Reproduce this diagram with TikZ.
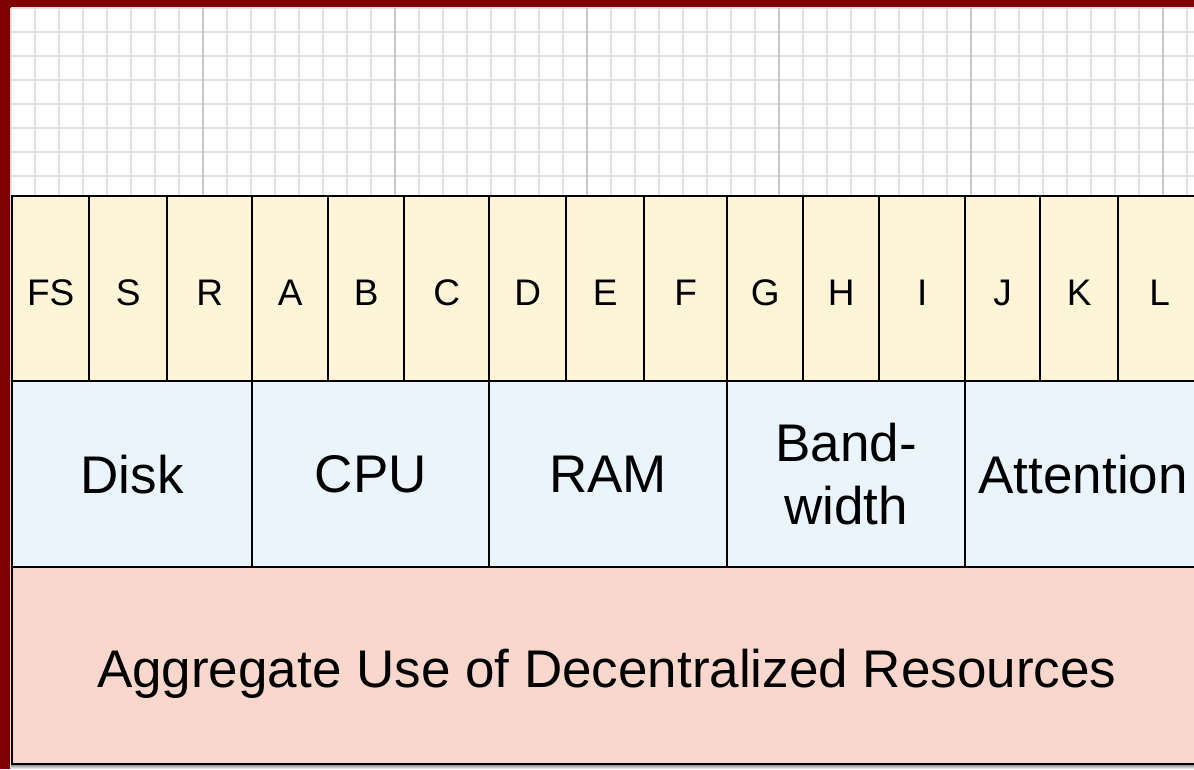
\documentclass[tikz,border=0pt]{standalone}
\usepackage{fontspec}
\setmainfont{Liberation Sans}
\usetikzlibrary{positioning}
\definecolor{frame}{HTML}{7F0000}
\definecolor{gridminor}{HTML}{E0E0E0}
\definecolor{gridmajor}{HTML}{C8C8C8}
\definecolor{letterfill}{HTML}{FEF4D8}
\definecolor{resfill}{HTML}{E9F4FC}
\definecolor{totalfill}{HTML}{FAD7CC}
\definecolor{shade}{HTML}{8E8686}

\begin{document}
\begin{tikzpicture}[x = 1pt, y = -1pt,
    cell/.style = { draw, line width = 2.4pt, inner sep = 0pt, anchor = north west, text depth = 0pt },
    letter/.style = { cell, fill = letterfill, minimum height = 185pt, text height = 34pt, font = \fontsize{37}{40}\selectfont },
    resource/.style = { cell, fill = resfill, minimum height = 186pt, align = center, font = \fontsize{53}{63}\selectfont },
    total/.style = { cell, fill = totalfill, minimum height = 197pt, text height = 44pt, font = \fontsize{53}{63}\selectfont }]
    \useasboundingbox (0,0) rectangle (1194,769);
    \clip (0,0) rectangle (1194,769);
    \fill[frame] (0,0) rectangle (1194,769);
    \fill[white] (11,8) rectangle (1194,769);
    \foreach \gx in {11,35,...,1194} \draw[gridminor, line width = 1.2pt] (\gx,8) -- (\gx,769);
    \foreach \gy in {8,32,...,769} \draw[gridminor, line width = 1.2pt] (11,\gy) -- (1194,\gy);
    \foreach \gx in {203,395,...,1194} \draw[gridmajor, line width = 1.4pt] (\gx,8) -- (\gx,769);
    \fill[shade] (11,764) rectangle (1194,769);

    \foreach \l/\r/\t/\n in {11/88/FS/fs, 88/166/S/s, 166/251/R/r, 251/327/A/a, 327/403/B/b,
        403/488/C/c, 488/565/D/d, 565/643/E/e, 643/726/F/f, 726/802/G/g, 802/878/H/h,
        878/964/I/i, 964/1039/J/j, 1039/1117/K/k, 1117/1200/L/l}
      \node[letter, minimum width = {(\r-\l)*1pt}] (\n) at (\l,195) {\t};

    \foreach \l/\r/\t/\n in {11/251/Disk/disk, 251/488/CPU/cpu, 488/726/RAM/ram,
        726/964/{Band-\\width}/bw, 964/1200/Attention/attn}
      \node[resource, minimum width = {(\r-\l)*1pt}] (\n) at (\l,380) {\t};

    \node[total, minimum width = 1189pt] (aggr) at (11,566) {Aggregate Use of Decentralized Resources};
\end{tikzpicture}
\end{document}
